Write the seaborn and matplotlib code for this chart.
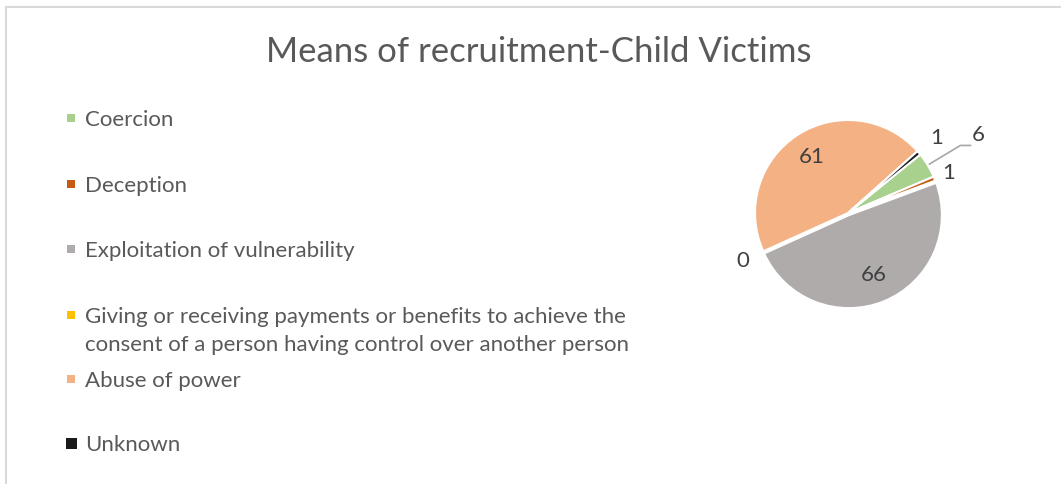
"""Pie chart: means of recruitment, child victims."""

import matplotlib

matplotlib.use("Agg")
import matplotlib.pyplot as plt  # noqa: E402
import seaborn as sns  # noqa: E402
from matplotlib.lines import Line2D  # noqa: E402
from matplotlib.patches import Rectangle  # noqa: E402
import numpy as np  # noqa: E402

categories = [
    "Coercion",
    "Deception",
    "Exploitation of vulnerability",
    "Giving or receiving payments or benefits to achieve the\nconsent of a person having control over another person",
    "Abuse of power",
    "Unknown",
]
victims = [6, 1, 66, 0, 61, 1]
colors = ["#A9D18E", "#C55A11", "#AFABAB", "#FFC000", "#F4B183", "#1A1A1A"]

# where each data label sits, as a fraction of the radius
label_radius = [1.63, 1.16, 0.72, 1.24, 0.72, 1.25]
explode = [0, 0, 0.025, 0, 0, 0]
legend_y = [118, 184, 249, 315, 379, 443]  # pixel rows of legend entries

sns.set_theme(style="white")
plt.rcParams["font.family"] = ["Lato", "DejaVu Sans"]
text_color = "#595959"

W, H = 1061, 484
fig = plt.figure(figsize=(W / 100, H / 100), dpi=100)
fig.patch.set_facecolor("white")

# chart-area border (only top and left are visible in the crop)
fig.add_artist(Line2D([6 / W, 1], [1 - 7 / H, 1 - 7 / H], color="#D9D9D9", lw=1.5))
fig.add_artist(Line2D([6 / W, 6 / W], [0, 1 - 7 / H], color="#D9D9D9", lw=1.5))

fig.text(539 / W, 1 - 52 / H, "Means of recruitment-Child Victims",
         ha="center", va="center", fontsize=25, color=text_color)

# pie
cx, cy, r = 848, 213, 93
size = 3 * r
ax = fig.add_axes([(cx - size / 2) / W, (H - cy - size / 2) / H, size / W, size / H])
wedges, _ = ax.pie(
    victims,
    colors=colors,
    explode=explode,
    startangle=39,
    counterclock=False,
    radius=1,
    wedgeprops=dict(edgecolor="white", linewidth=1.5),
)
ax.set_xlim(-1.5, 1.5)
ax.set_ylim(-1.5, 1.5)
ax.set_aspect("equal")
ax.axis("off")

for w, v, lr in zip(wedges, victims, label_radius):
    mid = np.deg2rad((w.theta1 + w.theta2) / 2)
    x, y = lr * np.cos(mid), lr * np.sin(mid)
    ax.text(x, y, str(v), ha="center", va="center", fontsize=16, color="#404040")
    if lr > 1.5:  # leader line for the label moved away from its slice
        ax.plot([1.02 * np.cos(mid), 1.41 * np.cos(mid), 1.41 * np.cos(mid) + 0.11],
                [1.02 * np.sin(mid), 1.41 * np.sin(mid), 1.41 * np.sin(mid)],
                color="#A6A6A6", lw=1.2, clip_on=False)

# legend, drawn by hand so the wrapped entry keeps its marker on the first line
for name, color, ly in zip(categories, colors, legend_y):
    sq = 11 if name == "Unknown" else 8
    fig.add_artist(Rectangle(((71 - sq / 2) / W, 1 - (ly + sq / 2) / H), sq / W, sq / H,
                             transform=fig.transFigure, facecolor=color, edgecolor="none"))
    fig.text(85 / W, 1 - (ly - 8) / H, name, ha="left", va="top",
             fontsize=16, color=text_color, linespacing=1.5)

fig.savefig("out.png", dpi=100)
plt.close(fig)
